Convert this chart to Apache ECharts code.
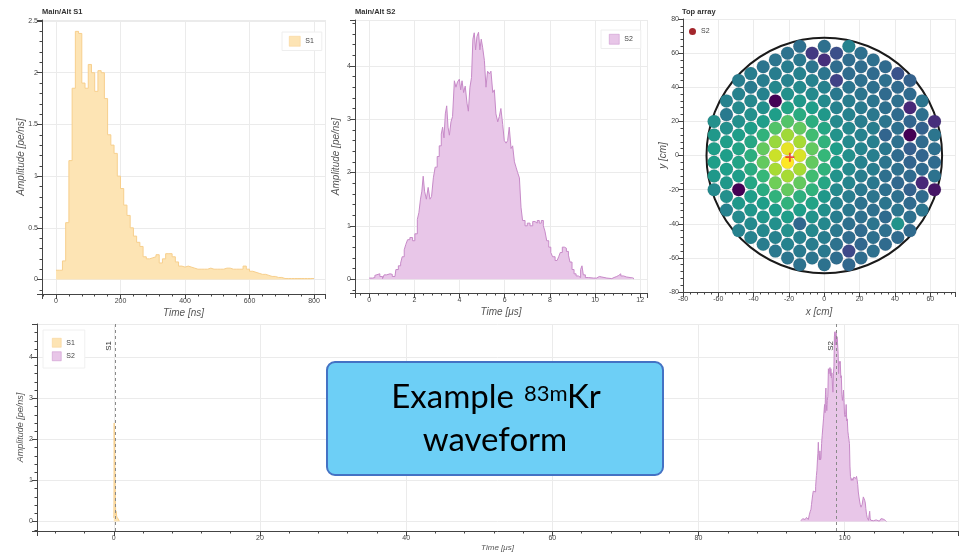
<!DOCTYPE html>
<html>
<head>
<meta charset="utf-8">
<title>Example 83mKr waveform</title>
<script src="https://cdn.jsdelivr.net/npm/echarts@6/dist/echarts.min.js"></script>
<style>
  html, body { margin: 0; padding: 0; background: #fff; }
  #main { width: 959px; height: 557px; }
</style>
</head>
<body>
<div id="main"></div>
<script>
// ---- S1 waveform, 10 ns bins [pe/ns]
var s1BinWidth = 10;
var s1Values = [0.09, 0.09, 0.18, 0.55, 1.15, 1.85, 2.4, 2.38, 1.9, 1.85,
  2.08, 2.0, 1.82, 2.02, 2.0, 1.75, 1.4, 1.3, 1.22, 1.0,
  0.88, 0.72, 0.62, 0.5, 0.42, 0.36, 0.32, 0.22, 0.2, 0.21,
  0.22, 0.24, 0.16, 0.2, 0.25, 0.25, 0.22, 0.17, 0.13, 0.12,
  0.13, 0.12, 0.11, 0.1, 0.1, 0.1, 0.1, 0.11, 0.1, 0.1,
  0.1, 0.1, 0.11, 0.11, 0.1, 0.1, 0.1, 0.1, 0.13, 0.1,
  0.08, 0.07, 0.06, 0.05, 0.05, 0.04, 0.03, 0.03, 0.02, 0.02,
  0.01, 0.01, 0.01, 0.01, 0.01, 0.01, 0.01, 0.01, 0.01, 0.01, 0.01];

// ---- S2 waveform [us], [pe/ns]
var s2Times = [0, 0.15, 0.25, 0.32, 0.47, 0.59, 0.66, 0.77, 0.92, 1.02,
  1.14, 1.18, 1.29, 1.39, 1.46, 1.55, 1.62, 1.70, 1.80, 1.92,
  2.02, 2.13, 2.20, 2.27, 2.33, 2.39, 2.45, 2.53, 2.61, 2.69,
  2.76, 2.84, 2.92, 3.01, 3.10, 3.19, 3.25, 3.31, 3.37, 3.43,
  3.49, 3.55, 3.62, 3.69, 3.77, 3.84, 3.91, 3.99, 4.05, 4.11,
  4.18, 4.25, 4.33, 4.39, 4.46, 4.53, 4.59, 4.65, 4.71, 4.77,
  4.84, 4.90, 4.96, 5.02, 5.10, 5.17, 5.24, 5.32, 5.39, 5.47,
  5.54, 5.61, 5.69, 5.76, 5.83, 5.91, 5.98, 6.06, 6.13, 6.20,
  6.28, 6.35, 6.43, 6.50, 6.57, 6.65, 6.72, 6.79, 6.90, 7.00,
  7.12, 7.24, 7.34, 7.44, 7.53, 7.62, 7.71, 7.78, 7.86, 7.95,
  8.04, 8.12, 8.23, 8.32, 8.39, 8.46, 8.55, 8.64, 8.73, 8.82,
  8.89, 8.98, 9.07, 9.16, 9.26, 9.36, 9.42, 9.48, 9.57, 9.70,
  9.93, 10.07, 10.19, 10.30, 10.52, 10.74, 10.84, 10.96, 11.05, 11.14,
  11.26, 11.40, 11.55, 11.70];
var s2Values = [0.02, 0.03, 0.07, 0.1, 0.05, 0.01, 0.08, 0.1, 0.09, 0.05,
  0.05, 0.18, 0.25, 0.3, 0.42, 0.55, 0.65, 0.74, 0.78, 0.72,
  0.85, 1.12, 1.25, 1.5, 1.65, 1.93, 1.65, 1.5, 1.72, 1.5,
  1.55, 1.9, 2.1, 2.3, 2.5, 2.72, 2.85, 2.65, 3.1, 3.25,
  2.85, 2.7, 2.95, 3.05, 3.72, 3.6, 3.7, 3.75, 3.55, 3.72,
  3.5, 3.62, 3.3, 3.15, 3.6, 3.78, 4.5, 4.62, 4.3, 4.55,
  4.63, 4.3, 4.5, 4.35, 4.1, 3.6, 3.9, 3.85, 3.9, 3.5,
  3.55, 3.1, 2.95, 3.05, 3.2, 2.9, 2.6, 2.55, 2.6, 2.85,
  2.45, 2.5, 2.2, 2.1, 2.0, 1.9, 1.35, 1.1, 1.0, 1.05,
  1.0, 1.08, 1.05, 1.1, 1.05, 1.1, 1.0, 0.9, 0.72, 0.6,
  0.5, 0.42, 0.35, 0.36, 0.42, 0.5, 0.6, 0.58, 0.52, 0.45,
  0.32, 0.18, 0.1, 0.06, 0.03, 0.18, 0.25, 0.08, 0.03, 0.02,
  0.02, 0.05, 0.04, 0.02, 0.01, 0.03, 0.05, 0.07, 0.1, 0.06,
  0.04, 0.03, 0.02, 0.0];

var s2Offset = 94.0;   // S2 start in the full event [us]
var s1Marker = 0.15;   // dashed S1 line [us]
var s2Marker = 98.9;   // dashed S2 line [us]

// ---- top PMT array: columns (x [cm]), top row y [cm], rows every 8 cm,
// hit level per PMT from top to bottom (0 = dark purple .. 9 = yellow)
var pmtColumnX = [-62.4, -55.4, -48.5, -41.6, -34.6, -27.7, -20.8, -13.9, -6.9, 0,
  6.9, 13.9, 20.8, 27.7, 34.6, 41.6, 48.5, 55.4, 62.4];
var pmtColumnTop = [20, 32, 44, 48, 52, 56, 60, 64, 60, 64, 60, 64, 60, 56, 52, 48, 44, 32, 20];
var pmtRowStep = 8;
var pmtLevels = [
  [4.5, 4.8, 5, 5, 4.8, 4.3],
  [4, 3.7, 4.5, 5, 5, 5, 4.8, 4.5, 4],
  [3.8, 4, 4.3, 4.5, 5, 5.2, 5.2, 5, 0, 4.8, 4.3, 4],
  [3.8, 3.7, 4.2, 4.5, 5, 5.3, 5.6, 5.5, 5.3, 5, 4.7, 4.3, 4],
  [3.5, 3.8, 4, 4.5, 5, 5.8, 6.8, 6.8, 6, 5.5, 5, 4.7, 4.2, 3.8],
  [3.5, 3.8, 4.2, 0, 5, 6.5, 7.6, 8.3, 7.8, 7, 5.8, 5, 4.5, 4, 3.6],
  [3.4, 3.8, 4, 4.5, 5.2, 6.5, 7.7, 8.7, 9, 7.8, 6.8, 5.8, 5, 4.5, 4, 3.5],
  [3.3, 3.6, 4, 4.3, 4.8, 5.5, 6.8, 7.8, 8.5, 7.8, 6.8, 5.7, 5, 3, 4, 3.7, 3.4],
  [1.5, 3.5, 4, 4.3, 5, 5.6, 6.2, 6.8, 6.8, 6.2, 5.8, 5.2, 4.6, 4.2, 3.8, 3.5],
  [3.3, 1.2, 3.5, 4, 4.3, 4.8, 5.3, 5.8, 6, 5.8, 5.3, 4.8, 4.5, 4.2, 3.8, 3.6, 3.4],
  [2.2, 3.2, 1.8, 3.6, 4, 4.3, 4.6, 5, 5, 4.6, 4.3, 4, 3.8, 3.6, 3.4, 3.2],
  [4, 3.2, 3.2, 3.5, 3.8, 4, 4.2, 4.3, 4.5, 4.3, 4.1, 3.8, 3.6, 3.3, 3.2, 2, 3],
  [3.3, 3.2, 3.3, 3.5, 3.7, 3.8, 4, 4.1, 4, 3.8, 3.6, 3.4, 3.3, 3.1, 3, 3.2],
  [3.3, 3.1, 3.3, 3.5, 3.6, 3.8, 3.9, 3.9, 3.8, 3.6, 3.5, 3.3, 3.5, 3.3, 3.3],
  [3.1, 3.3, 3.1, 3.3, 3.5, 2.9, 3.6, 3.5, 3.3, 3.3, 3.5, 3.1, 3.3, 3.1],
  [2.3, 3.1, 3.3, 3.1, 3.3, 3.3, 3.1, 3.3, 3, 3.3, 3.5, 4.6, 3.1],
  [2.8, 3.1, 1, 2.9, 0, 2.7, 2.9, 3.1, 2.8, 3.1, 3.3, 3.1],
  [3.5, 3.3, 2.8, 3.1, 2.9, 3.1, 1, 3.1, 3.5],
  [1.2, 3.5, 3.3, 3.1, 3.4, 0.5]
];
var s2Position = [-19.5, -1];
var tpcRadius = 66.7;

var viridis = ['#440154', '#482878', '#3e4989', '#31688e', '#26828e',
  '#1f9e89', '#35b779', '#6ece58', '#b5de2b', '#fde725'];

var s1Fill = '#fde4b4', s1Edge = '#f7cf8d';
var s2Fill = '#e8c6e8', s2Edge = '#c78ac8';

// ---- build series data
var s1Data = s1Values.map(function (v, i) { return [i * s1BinWidth, v]; });
var s1DataUs = s1Values.map(function (v, i) { return [i * s1BinWidth / 1000, v]; });
var s2Data = s2Times.map(function (t, i) { return [t, s2Values[i]]; });
var s2DataFull = s2Times.map(function (t, i) { return [t + s2Offset, s2Values[i]]; });

var pmtData = [];
pmtColumnX.forEach(function (x, c) {
  pmtLevels[c].forEach(function (lv, r) {
    pmtData.push([x, pmtColumnTop[c] - r * pmtRowStep, lv]);
  });
});

var FONT = 'Liberation Sans';
var AX = '#444';

function axis(gridIndex, min, max, extra) {
  var a = {
    type: 'value', gridIndex: gridIndex, min: min, max: max,
    axisLine: { onZero: false, lineStyle: { color: AX, width: 1 } },
    axisTick: { length: 5, lineStyle: { color: AX } },
    minorTick: { show: true, splitNumber: 5, length: 2.5, lineStyle: { color: AX } },
    axisLabel: { fontSize: 7, color: AX, margin: 4, fontFamily: FONT, showMinLabel: false, showMaxLabel: false },
    splitLine: { show: true, lineStyle: { color: '#ebebeb', width: 1 } },
    nameLocation: 'middle',
    nameMoveOverlap: false,
    nameTextStyle: { fontSize: 10, fontStyle: 'italic', color: '#555', fontFamily: FONT }
  };
  for (var k in extra) a[k] = extra[k];
  return a;
}

function markerLine(text, x) {
  return {
    silent: true, symbol: ['none', 'none'], animation: false,
    lineStyle: { color: '#8a8a8a', type: [3, 3], width: 1 },
    label: { show: true, formatter: text, position: 'insideEndTop', fontSize: 8, color: '#333',
      fontFamily: FONT, distance: 2, padding: [0, 15, 0, 0] },
    data: [{ xAxis: x }]
  };
}

var chart = echarts.init(document.getElementById('main'), null, { renderer: 'canvas' });

var option = {
  animation: false,
  backgroundColor: '#fff',
  title: [
    { text: 'Main/Alt S1', left: 42, top: 8, padding: 0, textStyle: { fontSize: 7.5, fontWeight: 'bold', color: '#333', fontFamily: FONT } },
    { text: 'Main/Alt S2', left: 355, top: 8, padding: 0, textStyle: { fontSize: 7.5, fontWeight: 'bold', color: '#333', fontFamily: FONT } },
    { text: 'Top array', left: 682, top: 8, padding: 0, textStyle: { fontSize: 7.5, fontWeight: 'bold', color: '#333', fontFamily: FONT } }
  ],
  grid: [
    { left: 42, top: 20, width: 283, height: 274, outerBoundsMode: 'none' },
    { left: 355, top: 20, width: 292, height: 273, outerBoundsMode: 'none' },
    { left: 683, top: 19, width: 272, height: 273, outerBoundsMode: 'none' },
    { left: 37, top: 324, width: 921, height: 207, outerBoundsMode: 'none' }
  ],
  xAxis: [
    axis(0, -43.4, 834, { splitNumber: 4, name: 'Time [ns]', nameGap: 14 }),
    axis(1, -0.63, 12.3, { splitNumber: 6, name: 'Time [μs]', nameGap: 14 }),
    axis(2, -80, 74, { interval: 20, name: 'x [cm]', nameGap: 15,
      axisLabel: { fontSize: 7, color: AX, margin: 4, fontFamily: FONT, showMinLabel: true, showMaxLabel: false } }),
    axis(3, -10.5, 115.5, { splitNumber: 6, name: 'Time [μs]', nameGap: 13,
      nameTextStyle: { fontSize: 8, fontStyle: 'italic', color: '#555', fontFamily: FONT } })
  ],
  yAxis: [
    axis(0, -0.14, 2.51, { splitNumber: 5, name: 'Amplitude [pe/ns]', nameGap: 16 }),
    axis(1, -0.26, 4.86, { splitNumber: 5, name: 'Amplitude [pe/ns]', nameGap: 14 }),
    axis(2, -80, 80, { interval: 20, name: 'y [cm]', nameGap: 15,
      axisLabel: { fontSize: 7, color: AX, margin: 4, fontFamily: FONT, showMinLabel: true, showMaxLabel: true } }),
    axis(3, -0.23, 4.81, { splitNumber: 5, name: 'Amplitude [pe/ns]', nameGap: 12,
      nameTextStyle: { fontSize: 9, fontStyle: 'italic', color: '#555', fontFamily: FONT } })
  ],
  legend: [
    { left: 282, top: 32, padding: [4, 8, 4, 7], itemWidth: 11, itemHeight: 10, itemGap: 4,
      backgroundColor: '#fff', borderColor: '#eee', borderWidth: 1,
      textStyle: { fontSize: 7, color: '#444', fontFamily: FONT },
      data: [{ name: 'S1', icon: 'rect', itemStyle: { color: s1Fill, borderColor: s1Edge, borderWidth: 0.5 } }] },
    { left: 601, top: 30, padding: [4, 8, 4, 8], itemWidth: 10, itemHeight: 10, itemGap: 4,
      backgroundColor: '#fff', borderColor: '#eee', borderWidth: 1,
      textStyle: { fontSize: 7, color: '#444', fontFamily: FONT },
      data: [{ name: 'S2', icon: 'rect', itemStyle: { color: s2Fill, borderColor: s2Edge, borderWidth: 0.5 } }] },
    { left: 689, top: 28, padding: 0, itemWidth: 7, itemHeight: 7,
      textStyle: { fontSize: 7, color: '#444', fontFamily: FONT },
      data: [{ name: 'S2', icon: 'circle', itemStyle: { color: '#a3262c' } }] },
    { left: 43, top: 330, orient: 'vertical', padding: [8, 10, 7, 9], itemWidth: 9, itemHeight: 9, itemGap: 4,
      backgroundColor: '#fff', borderColor: '#f0f0f0', borderWidth: 1,
      textStyle: { fontSize: 7, color: '#444', fontFamily: FONT },
      data: [{ name: 'S1', icon: 'rect', itemStyle: { color: s1Fill, borderColor: s1Edge, borderWidth: 0.5 } },
             { name: 'S2', icon: 'rect', itemStyle: { color: s2Fill, borderColor: s2Edge, borderWidth: 0.5 } }] }
  ],
  visualMap: [{
    type: 'continuous', show: false, seriesIndex: 3, dimension: 2,
    min: 0, max: 9, inRange: { color: viridis }
  }],
  series: [
    { name: 'S1', type: 'line', xAxisIndex: 0, yAxisIndex: 0, data: s1Data, step: 'end',
      showSymbol: false, symbol: 'none',
      lineStyle: { color: s1Edge, width: 1 }, itemStyle: { color: s1Fill },
      areaStyle: { color: s1Fill, opacity: 1 } },
    { name: 'S2', type: 'line', xAxisIndex: 1, yAxisIndex: 1, data: s2Data, step: 'end',
      showSymbol: false, symbol: 'none',
      lineStyle: { color: s2Edge, width: 1 }, itemStyle: { color: s2Fill },
      areaStyle: { color: s2Fill, opacity: 1 } },
    { type: 'custom', xAxisIndex: 2, yAxisIndex: 2, silent: true, z: 1, data: [[0, 0]],
      renderItem: function (params, api) {
        var c = api.coord([0, 0]);
        var r = api.size([tpcRadius, 0])[0];
        return { type: 'circle', shape: { cx: c[0], cy: c[1], r: r },
          style: { fill: 'none', stroke: '#1a1a1a', lineWidth: 2 } };
      } },
    { name: 'PMT', type: 'scatter', xAxisIndex: 2, yAxisIndex: 2, data: pmtData,
      symbol: 'circle', symbolSize: 13, z: 2,
      itemStyle: { opacity: 1, borderColor: 'rgba(40,40,60,0.2)', borderWidth: 0.5 } },
    { name: 'S2', type: 'scatter', xAxisIndex: 2, yAxisIndex: 2, data: [s2Position], z: 5,
      symbol: 'path://M4,0 L6,0 L6,4 L10,4 L10,6 L6,6 L6,10 L4,10 L4,6 L0,6 L0,4 L4,4 Z',
      symbolSize: 9, itemStyle: { color: '#e8262c' } },
    { name: 'S1', type: 'line', xAxisIndex: 3, yAxisIndex: 3, data: s1DataUs, step: 'end',
      showSymbol: false, symbol: 'none',
      lineStyle: { color: s1Edge, width: 1 }, itemStyle: { color: s1Fill },
      areaStyle: { color: s1Fill, opacity: 1 },
      markLine: markerLine('S1', s1Marker) },
    { name: 'S2', type: 'line', xAxisIndex: 3, yAxisIndex: 3, data: s2DataFull, step: 'end',
      showSymbol: false, symbol: 'none',
      lineStyle: { color: s2Edge, width: 1 }, itemStyle: { color: s2Fill },
      areaStyle: { color: s2Fill, opacity: 1 },
      markLine: markerLine('S2', s2Marker) }
  ],
  graphic: [
    { type: 'rect', z: 100, shape: { x: 327, y: 362, width: 336, height: 113, r: 8 },
      style: { fill: '#6dcff6', stroke: '#4472c4', lineWidth: 2 } },
    { type: 'text', z: 101, x: 514, y: 397,
      style: { text: 'Example', font: '33px Lato', fill: '#000', align: 'right', verticalAlign: 'middle' } },
    { type: 'text', z: 101, x: 524, y: 394,
      style: { text: '83m', font: '22px Lato', fill: '#000', align: 'left', verticalAlign: 'middle' } },
    { type: 'text', z: 101, x: 567, y: 397,
      style: { text: 'Kr', font: '33px Lato', fill: '#000', align: 'left', verticalAlign: 'middle' } },
    { type: 'text', z: 101, x: 495, y: 440,
      style: { text: 'waveform', font: '33px Lato', fill: '#000', align: 'center', verticalAlign: 'middle' } }
  ]
};

chart.setOption(option);
</script>
</body>
</html>
